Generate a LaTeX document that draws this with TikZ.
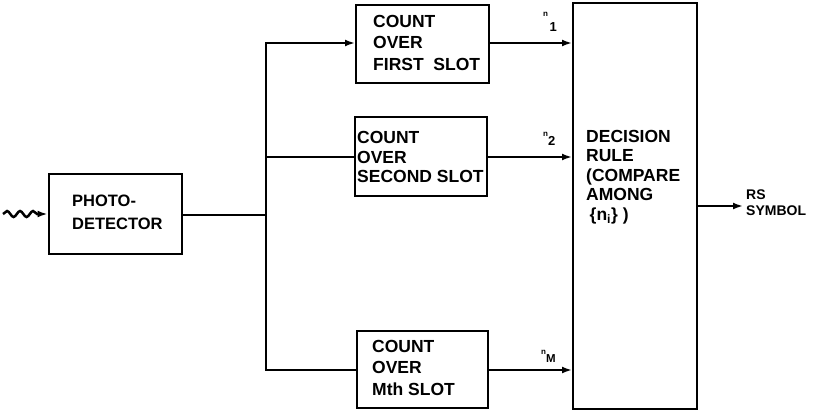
\documentclass[tikz,border=0pt]{standalone}
\usepackage{fontspec}
\setmainfont{Liberation Sans}
\usetikzlibrary{arrows.meta,decorations.pathmorphing}
\begin{document}
\begin{tikzpicture}[x=1pt,y=-1pt,
  blk/.style={draw,line width=2pt,minimum width=#1,inner sep=0pt},
  lbl/.style={align=left,anchor=north west,inner sep=0pt},
  fA/.style={font=\fontsize{17.5}{21.5}\selectfont\bfseries},
  fB/.style={font=\fontsize{17.5}{19.5}\selectfont\bfseries},
  wire/.style={line width=2.5pt},
  tip/.tip={Latex[length=10pt,width=7pt]},
  arr/.style={wire,-tip},
  nlab/.style={inner sep=0pt,anchor=base west,font=\bfseries}]
\useasboundingbox (0,0) rectangle (814,412);
% boxes
\node[blk=133pt,minimum height=80pt] (pd) at (115,214) {};
\node[blk=133pt,minimum height=78pt] (b1) at (422.5,44) {};
\node[blk=132pt,minimum height=79pt] (b2) at (421,156.5) {};
\node[blk=131pt,minimum height=77pt] (b3) at (422.5,369.5) {};
\node[blk=124pt,minimum height=406pt] (dr) at (635,206) {};
% texts
\node[lbl,font=\fontsize{16.5}{23}\selectfont\bfseries] (tpd) at (72,195) {PHOTO-\\DETECTOR};
\node[lbl,fA] (t1) at (373,15) {COUNT\\OVER\\FIRST\hspace{0.55em}SLOT};
\node[lbl,fB] (t2) at (357,131.5) {COUNT\\OVER\\SECOND SLOT};
\node[lbl,fA] (t3) at (372,340) {COUNT\\OVER\\Mth SLOT};
\node[lbl,fB] (tdr) at (586,130) {DECISION\\RULE\\(COMPARE\\AMONG\\\hspace{0.2em}\{n\textsubscript{i}\} )};
\node[lbl,font=\fontsize{14}{16}\selectfont\bfseries] (tout) at (746,190) {RS\\SYMBOL};
% n labels
\node[nlab] (n1) at (543,17) {\fontsize{8}{8}\selectfont n\hspace{1.5pt}\raisebox{-15pt}{\fontsize{13}{13}\selectfont 1}};
\node[nlab] (n2) at (543,136) {\fontsize{8}{8}\selectfont n\raisebox{-9pt}{\fontsize{13}{13}\selectfont 2}};
\node[nlab] (nM) at (541,354) {\fontsize{8}{8}\selectfont n\raisebox{-8pt}{\fontsize{11.5}{11.5}\selectfont M}};
% coordinates
\coordinate (src) at (3,214);
\coordinate (bus1) at (266,43);
\coordinate (bus2) at (266,157);
\coordinate (bus3) at (266,370);
\coordinate (busm) at (266,215);
\coordinate (out) at (743,206);
% input squiggle
\draw[wire,-tip,decorate,decoration={snake,segment length=13pt,amplitude=3pt,post length=9pt}] (src) -- (pd.west |- src);
% bus
\draw[wire] (pd.east |- busm) -- (busm);
\draw[wire,line cap=rect] (bus1) -- (bus3);
\draw[arr] (bus1) -- (b1.west |- bus1);
\draw[wire] (bus2) -- (b2.west |- bus2);
\draw[wire] (bus3) -- (b3.west |- bus3);
% to decision
\draw[arr] (b1.east |- bus1) -- (dr.west |- bus1);
\draw[arr] (b2.east |- bus2) -- (dr.west |- bus2);
\draw[arr] (b3.east |- bus3) -- (dr.west |- bus3);
\draw[arr] (dr.east |- out) -- (out);
\end{tikzpicture}
\end{document}
